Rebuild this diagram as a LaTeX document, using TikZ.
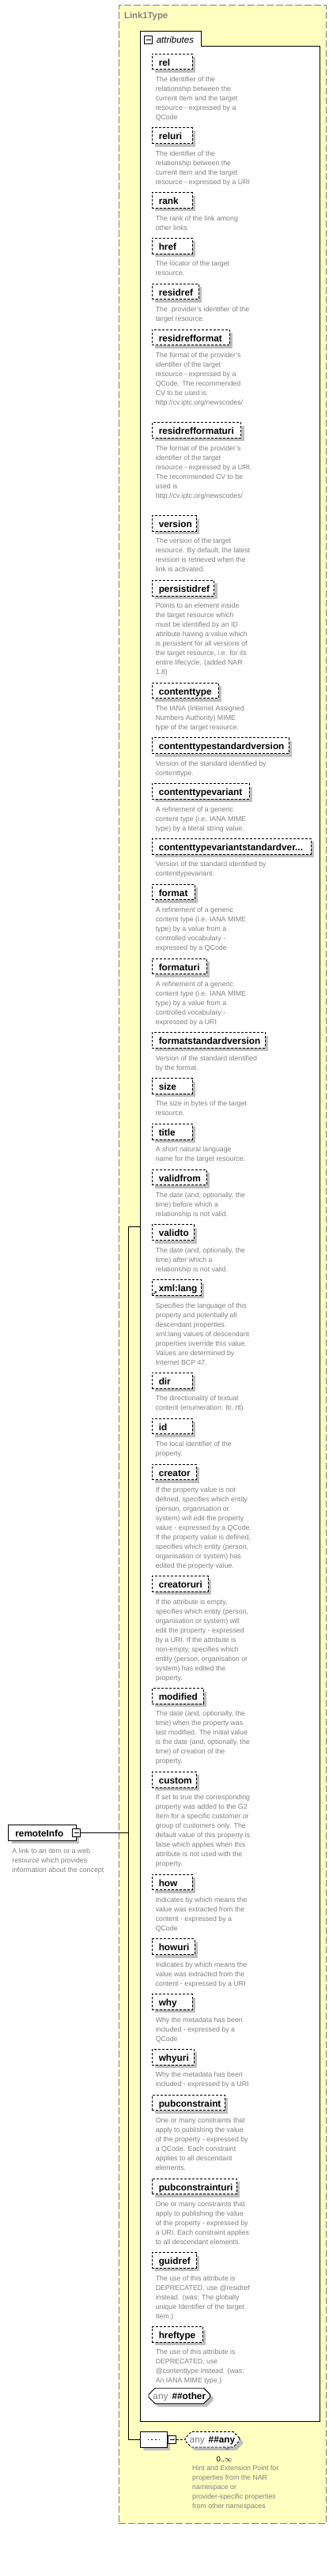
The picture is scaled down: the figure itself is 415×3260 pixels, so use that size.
\documentclass[tikz,border=0pt]{standalone}
\usepackage{fontspec}
\setmainfont{Liberation Sans}
\usetikzlibrary{positioning,shapes.misc,shadows,arrows.meta}

\definecolor{typebg}{RGB}{255,255,192}
\definecolor{typeline}{RGB}{128,128,128}
\definecolor{shadowgray}{RGB}{192,192,192}
\definecolor{annogray}{RGB}{128,128,128}

\tikzset{
    togglebox/.style={draw, fill=white, line width=0.9pt, minimum size=10pt, inner sep=0pt,
        path picture={\draw[line width=0.9pt] ([xshift=-3pt]path picture bounding box.center) -- ([xshift=3pt]path picture bounding box.center);}},
}

\begin{document}
\begin{tikzpicture}[x=1pt, y=-1pt, line width=0.9pt,
    boxshadow/.style={drop shadow={shadow xshift=4pt, shadow yshift=-4pt, fill=shadowgray, opacity=1}},
    attr/.style={draw, dash pattern=on 3pt off 2pt, fill=white, boxshadow, anchor=north west,
        minimum height=19.6pt, inner sep=0pt, text width=#1, align=left,
        text height=12pt, text depth=1.6pt, font=\fontsize{11.8}{14}\selectfont\bfseries,
        execute at begin node={\hspace*{8.6pt}}},
    elem/.style={attr=#1, solid},
    anno/.style={anchor=north west, inner sep=0pt, align=left, text=annogray,
        font=\fontsize{8.8}{12}\selectfont, execute at begin node=\strut, execute at end node=\strut},
    anybox/.style={chamfered rectangle, chamfered rectangle xsep=4pt, chamfered rectangle ysep=4pt,
        draw, fill=white, boxshadow, minimum width=#1, minimum height=19.6pt, inner sep=0pt,
        text height=10pt, text depth=1.6pt, font=\fontsize{11.8}{14}\selectfont},
    seqbox/.style={chamfered rectangle, chamfered rectangle xsep=4pt, chamfered rectangle ysep=4pt,
        draw, fill=white, boxshadow, minimum width=33.3pt, minimum height=19.7pt, inner sep=0pt,
        path picture={
            \draw ([xshift=-7.6pt]path picture bounding box.center) -- ([xshift=7.6pt]path picture bounding box.center);
            \foreach \dx in {-5.2,0,5.2}
                \fill ([shift={(\dx-1.4,-1.4)}]path picture bounding box.center) rectangle ++(2.8,2.8);
        }}
]
    \useasboundingbox (0,0) rectangle (415,3260);

    % complex type frame
    \node[draw=typeline, fill=typebg, dash pattern=on 9pt off 3pt, minimum width=262pt, minimum height=3187.6pt,
        anchor=north west, inner sep=0pt] (linktype) at (149.7,5.7) {};
    \node[anchor=west, inner sep=0pt, text=typeline, font=\fontsize{11.3}{13}\selectfont\bfseries] (typename) at (156.7,20.5) {Link1Type};

    % attributes group
    \draw[fill=white] (177.3,3064.3) -- (177.3,39.3) -- (254.3,39.3) -- (254.3,58.7) -- (404.7,58.7) -- (404.7,3064.3) -- cycle;
    \node[togglebox] (attrsign) at (187.7,50) {};
    \node[anchor=west, inner sep=0pt, font=\fontsize{11.5}{13}\selectfont\itshape] (attrlabel) at (197.3,50) {attributes};

    \node[attr=51.3pt] (rel) at (191.7,67.7) {rel};
    \node[anno, below right=8.5pt and 4.6pt of rel.south west] (reldoc) {The identifier of the\\relationship between the\\current Item and the target\\resource - expressed by a\\QCode};
    \node[attr=51.3pt, below=5.9pt of reldoc.south west, anchor=north west, xshift=-4.6pt] (reluri) {reluri};
    \node[anno, below right=8.5pt and 4.6pt of reluri.south west] (reluridoc) {The identifier of the\\relationship between the\\current Item and the target\\resource - expressed by a URI};
    \node[attr=51.3pt, below=5.9pt of reluridoc.south west, anchor=north west, xshift=-4.6pt] (rank) {rank};
    \node[anno, below right=8.5pt and 4.6pt of rank.south west] (rankdoc) {The rank of the link among\\other links};
    \node[attr=51.3pt, below=5.9pt of rankdoc.south west, anchor=north west, xshift=-4.6pt] (href) {href};
    \node[anno, below right=8.5pt and 4.6pt of href.south west] (hrefdoc) {The locator of the target\\resource.};
    \node[attr=59pt, below=5.9pt of hrefdoc.south west, anchor=north west, xshift=-4.6pt] (residref) {residref};
    \node[anno, below right=8.5pt and 4.6pt of residref.south west] (residrefdoc) {The\ \ provider's identifier of the\\target resource.};
    \node[attr=98pt, below=5.9pt of residrefdoc.south west, anchor=north west, xshift=-4.6pt] (residrefformat) {residrefformat};
    \node[anno, below right=8.5pt and 4.6pt of residrefformat.south west] (residrefformatdoc) {The format of the provider's\\identifier of the target\\resource - expressed by a\\QCode. The recommended\\CV to be used is\\http://cv.iptc.org/newscodes/};
    \node[attr=112.6pt, below=17.9pt of residrefformatdoc.south west, anchor=north west, xshift=-4.6pt] (residrefformaturi) {residrefformaturi};
    \node[anno, below right=8.5pt and 4.6pt of residrefformaturi.south west] (residrefformaturidoc) {The format of the provider's\\identifier of the target\\resource - expressed by a URI.\\The recommended CV to be\\used is\\http://cv.iptc.org/newscodes/};
    \node[attr=56pt, below=17.9pt of residrefformaturidoc.south west, anchor=north west, xshift=-4.6pt] (version) {version};
    \node[anno, below right=8.5pt and 4.6pt of version.south west] (versiondoc) {The version of the target\\resource. By default, the latest\\revision is retrieved when the\\link is activated.};
    \node[attr=78.6pt, below=5.9pt of versiondoc.south west, anchor=north west, xshift=-4.6pt] (persistidref) {persistidref};
    \node[anno, below right=8.5pt and 4.6pt of persistidref.south west] (persistidrefdoc) {Points to an element inside\\the target resource which\\must be identified by an ID\\attribute having a value which\\is persistent for all versions of\\the target resource, i.e. for its\\entire lifecycle. (added NAR\\1.8)};
    \node[attr=84pt, below=5.9pt of persistidrefdoc.south west, anchor=north west, xshift=-4.6pt] (contenttype) {contenttype};
    \node[anno, below right=8.5pt and 4.6pt of contenttype.south west] (contenttypedoc) {The IANA (Internet Assigned\\Numbers Authority) MIME\\type of the target resource.};
    \node[attr=173pt, below=5.9pt of contenttypedoc.south west, anchor=north west, xshift=-4.6pt] (ctstdversion) {contenttypestandardversion};
    \node[anno, below right=8.5pt and 4.6pt of ctstdversion.south west] (ctstdversiondoc) {Version of the standard identified by\\contenttype.};
    \node[attr=123pt, below=5.9pt of ctstdversiondoc.south west, anchor=north west, xshift=-4.6pt] (ctvariant) {contenttypevariant};
    \node[anno, below right=8.5pt and 4.6pt of ctvariant.south west] (ctvariantdoc) {A refinement of a generic\\content type (i.e. IANA MIME\\type) by a literal string value.};
    \node[attr=201pt, below=5.9pt of ctvariantdoc.south west, anchor=north west, xshift=-4.6pt] (ctvarstdversion) {contenttypevariantstandardver...};
    \node[anno, below right=8.5pt and 4.6pt of ctvarstdversion.south west] (ctvarstdversiondoc) {Version of the standard identified by\\contenttypevariant.};
    \node[attr=54pt, below=5.9pt of ctvarstdversiondoc.south west, anchor=north west, xshift=-4.6pt] (format) {format};
    \node[anno, below right=8.5pt and 4.6pt of format.south west] (formatdoc) {A refinement of a generic\\content type (i.e. IANA MIME\\type) by a value from a\\controlled vocabulary -\\expressed by a QCode};
    \node[attr=69pt, below=5.9pt of formatdoc.south west, anchor=north west, xshift=-4.6pt] (formaturi) {formaturi};
    \node[anno, below right=8.5pt and 4.6pt of formaturi.south west] (formaturidoc) {A refinement of a generic\\content type (i.e. IANA MIME\\type) by a value from a\\controlled vocabulary -\\expressed by a URI};
    \node[attr=143pt, below=5.9pt of formaturidoc.south west, anchor=north west, xshift=-4.6pt] (formatstdversion) {formatstandardversion};
    \node[anno, below right=8.5pt and 4.6pt of formatstdversion.south west] (formatstdversiondoc) {Version of the standard identified\\by the format.};
    \node[attr=51.3pt, below=5.9pt of formatstdversiondoc.south west, anchor=north west, xshift=-4.6pt] (size) {size};
    \node[anno, below right=8.5pt and 4.6pt of size.south west] (sizedoc) {The size in bytes of the target\\resource.};
    \node[attr=51.3pt, below=5.9pt of sizedoc.south west, anchor=north west, xshift=-4.6pt] (title) {title};
    \node[anno, below right=8.5pt and 4.6pt of title.south west] (titledoc) {A short natural language\\name for the target resource.};
    \node[attr=69pt, below=5.9pt of titledoc.south west, anchor=north west, xshift=-4.6pt] (validfrom) {validfrom};
    \node[anno, below right=8.5pt and 4.6pt of validfrom.south west] (validfromdoc) {The date (and, optionally, the\\time) before which a\\relationship is not valid.};
    \node[attr=53pt, below=5.9pt of validfromdoc.south west, anchor=north west, xshift=-4.6pt] (validto) {validto};
    \node[anno, below right=8.5pt and 4.6pt of validto.south west] (validtodoc) {The date (and, optionally, the\\time) after which a\\relationship is not valid.};
    \node[attr=62pt, below=5.9pt of validtodoc.south west, anchor=north west, xshift=-4.6pt] (xmllang) {xml:lang};
    \draw[-{Stealth[length=2.5pt,width=2.5pt]}, line width=0.6pt] ([shift={(2.2,-1.8)}]xmllang.south west) -- ++(4,-4);
    \node[anno, below right=8.5pt and 4.6pt of xmllang.south west] (xmllangdoc) {Specifies the language of this\\property and potentially all\\descendant properties.\\xml:lang values of descendant\\properties override this value.\\Values are determined by\\Internet BCP 47.};
    \node[attr=51.3pt, below=5.9pt of xmllangdoc.south west, anchor=north west, xshift=-4.6pt] (dir) {dir};
    \node[anno, below right=8.5pt and 4.6pt of dir.south west] (dirdoc) {The directionality of textual\\content (enumeration: ltr, rtl)};
    \node[attr=51.3pt, below=5.9pt of dirdoc.south west, anchor=north west, xshift=-4.6pt] (id) {id};
    \node[anno, below right=8.5pt and 4.6pt of id.south west] (iddoc) {The local identifier of the\\property.};
    \node[attr=56pt, below=5.9pt of iddoc.south west, anchor=north west, xshift=-4.6pt] (creator) {creator};
    \node[anno, below right=8.5pt and 4.6pt of creator.south west] (creatordoc) {If the property value is not\\defined, specifies which entity\\(person, organisation or\\system) will edit the property\\value - expressed by a QCode.\\If the property value is defined,\\specifies which entity (person,\\organisation or system) has\\edited the property value.};
    \node[attr=71pt, below=5.9pt of creatordoc.south west, anchor=north west, xshift=-4.6pt] (creatoruri) {creatoruri};
    \node[anno, below right=8.5pt and 4.6pt of creatoruri.south west] (creatoruridoc) {If the attribute is empty,\\specifies which entity (person,\\organisation or system) will\\edit the property - expressed\\by a URI. If the attribute is\\non-empty, specifies which\\entity (person, organisation or\\system) has edited the\\property.};
    \node[attr=65pt, below=5.9pt of creatoruridoc.south west, anchor=north west, xshift=-4.6pt] (modified) {modified};
    \node[anno, below right=8.5pt and 4.6pt of modified.south west] (modifieddoc) {The date (and, optionally, the\\time) when the property was\\last modified. The initial value\\is the date (and, optionally, the\\time) of creation of the\\property.};
    \node[attr=56pt, below=5.9pt of modifieddoc.south west, anchor=north west, xshift=-4.6pt] (custom) {custom};
    \node[anno, below right=8.5pt and 4.6pt of custom.south west] (customdoc) {If set to true the corresponding\\property was added to the G2\\Item for a specific customer or\\group of customers only. The\\default value of this property is\\false which applies when this\\attribute is not used with the\\property.};
    \node[attr=51.3pt, below=5.9pt of customdoc.south west, anchor=north west, xshift=-4.6pt] (how) {how};
    \node[anno, below right=8.5pt and 4.6pt of how.south west] (howdoc) {Indicates by which means the\\value was extracted from the\\content - expressed by a\\QCode};
    \node[attr=54pt, below=5.9pt of howdoc.south west, anchor=north west, xshift=-4.6pt] (howuri) {howuri};
    \node[anno, below right=8.5pt and 4.6pt of howuri.south west] (howuridoc) {Indicates by which means the\\value was extracted from the\\content - expressed by a URI};
    \node[attr=51.3pt, below=5.9pt of howuridoc.south west, anchor=north west, xshift=-4.6pt] (why) {why};
    \node[anno, below right=8.5pt and 4.6pt of why.south west] (whydoc) {Why the metadata has been\\included - expressed by a\\QCode};
    \node[attr=53pt, below=5.9pt of whydoc.south west, anchor=north west, xshift=-4.6pt] (whyuri) {whyuri};
    \node[anno, below right=8.5pt and 4.6pt of whyuri.south west] (whyuridoc) {Why the metadata has been\\included - expressed by a URI};
    \node[attr=92pt, below=5.9pt of whyuridoc.south west, anchor=north west, xshift=-4.6pt] (pubconstraint) {pubconstraint};
    \node[anno, below right=8.5pt and 4.6pt of pubconstraint.south west] (pubconstraintdoc) {One or many constraints that\\apply to publishing the value\\of the property - expressed by\\a QCode. Each constraint\\applies to all descendant\\elements.};
    \node[attr=107pt, below=5.9pt of pubconstraintdoc.south west, anchor=north west, xshift=-4.6pt] (pubconstrainturi) {pubconstrainturi};
    \node[anno, below right=8.5pt and 4.6pt of pubconstrainturi.south west] (pubconstrainturidoc) {One or many constraints that\\apply to publishing the value\\of the property - expressed by\\a URI. Each constraint applies\\to all descendant elements.};
    \node[attr=56pt, below=5.9pt of pubconstrainturidoc.south west, anchor=north west, xshift=-4.6pt] (guidref) {guidref};
    \node[anno, below right=8.5pt and 4.6pt of guidref.south west] (guidrefdoc) {The use of this attribute is\\DEPRECATED, use @residref\\instead. (was: The globally\\unique Identifier of the target\\Item.)};
    \node[attr=64pt, below=5.9pt of guidrefdoc.south west, anchor=north west, xshift=-4.6pt] (hreftype) {hreftype};
    \node[anno, below right=8.5pt and 4.6pt of hreftype.south west] (hreftypedoc) {The use of this attribute is\\DEPRECATED, use\\@contenttype instead. (was:\\An IANA MIME type.)};
    \node[anybox=77.6pt, below=5.9pt of hreftypedoc.south west, anchor=north west, xshift=-4.6pt] (anyother) {\textcolor{typeline}{any}\hspace{5pt}\textbf{\#\#other}};

    % sequence with wildcard
    \node[seqbox] (seq) at (194.35,3087.2) {};
    \node[togglebox, right=0.7pt of seq] (seqsign) {};
    \node[anybox=68.7pt, dash pattern=on 3pt off 2pt, right=10.6pt of seqsign] (anyany) {\textcolor{typeline}{any}\hspace{5pt}\textbf{\#\#any}};
    \draw[line width=0.5pt, draw=black!70] ([shift={(-17,2.2)}]anyany.south east) -- ([shift={(-11.7,6.7)}]anyany.south east) -- ([shift={(-7,2.2)}]anyany.south east);
    \node[inner sep=0pt, font=\fontsize{9.5}{11}\selectfont] (anycard) at ([shift={(15,14.4)}]anyany.south) {0..$\infty$};
    \node[anno, below right=26.5pt and 5pt of anyany.south west] (anyanydoc) {Hint and Extension Point for\\properties from the NAR\\namespace or\\provider-specific properties\\from other namespaces};

    % element
    \node[elem=85.4pt, anchor=west, minimum height=20pt] (remoteInfo) at (10.3,2319.3) {remoteInfo};
    \node[togglebox] (remotesign) at (remoteInfo.east) {};
    \node[anno, below right=8.5pt and 4.6pt of remoteInfo.south west] (remoteInfodoc) {A link to an item or a web\\resource which provides\\information about the concept};

    % connectors
    \coordinate (bracket) at (remotesign.east -| 162.3,0);
    \coordinate (attrjoin) at (177.3,1552.7);
    \draw (remotesign.east) -- (bracket);
    \draw (attrjoin) -| (bracket) |- (seq.west);
    \draw[dash pattern=on 3pt off 2pt] (seqsign.east) -- (anyany.west);
\end{tikzpicture}
\end{document}
